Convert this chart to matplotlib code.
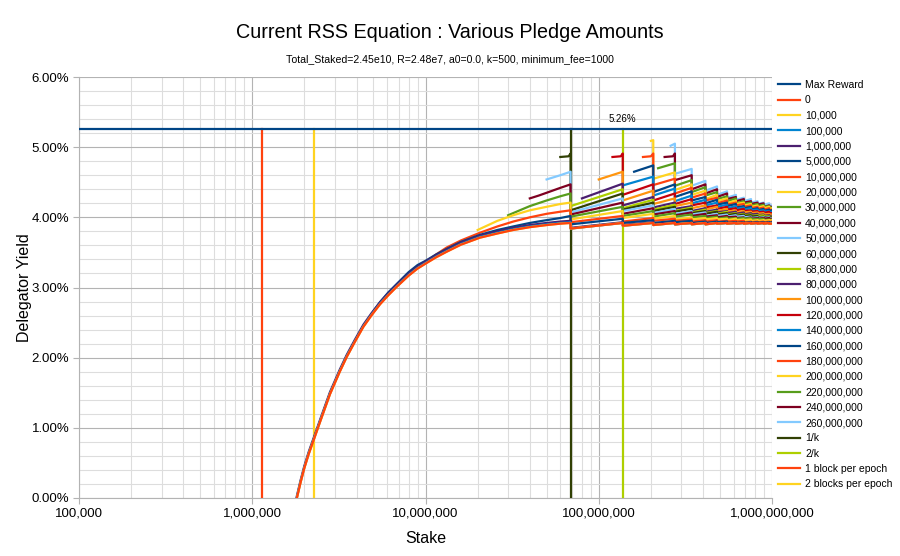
import matplotlib.pyplot as plt
import matplotlib.ticker as mticker

plt.rcParams['font.family'] = ['Liberation Sans', 'DejaVu Sans']

# Stake where the operator has to open one more pool (multiples of 1/k = 68.8M)
pool_edges = [68.8e6, 137.6e6, 206.4e6, 275.2e6, 344.0e6, 412.8e6, 481.6e6,
              550.4e6, 619.2e6, 688.0e6, 756.8e6, 825.6e6, 894.4e6, 963.2e6]
stake_max = 1e9

max_reward = 5.26
one_k, two_k = 68.8e6, 137.6e6
one_block, two_blocks = 1.134e6, 2.268e6

pledge_labels = ['0', '10,000', '100,000', '1,000,000', '5,000,000', '10,000,000',
                 '20,000,000', '30,000,000', '40,000,000', '50,000,000', '60,000,000',
                 '68,800,000', '80,000,000', '100,000,000', '120,000,000',
                 '140,000,000', '160,000,000', '180,000,000', '200,000,000',
                 '220,000,000', '240,000,000', '260,000,000']
pledge_colors = ['#ff420e', '#ffd320', '#0084d1', '#4b1f6f', '#004586', '#ff420e',
                 '#ffd320', '#579d1c', '#7e0021', '#83caff', '#314004',
                 '#aecf00', '#4b1f6f', '#ff950e', '#c5000b',
                 '#0084d1', '#004586', '#ff420e', '#ffd320',
                 '#579d1c', '#7e0021', '#83caff']
# number of pools the series starts with
start_pools = [1, 1, 1, 1, 1, 1, 1, 1, 1, 1, 1,
               2, 2, 2, 2, 3, 3, 3, 3, 4, 4, 4]

# first (smooth) part of each curve, stake in millions, yield in %
low_stake = [1.70, 1.81, 1.9, 2.0, 2.12, 2.25, 2.5, 2.81, 3.2, 3.51, 3.9, 4.38, 4.9,
             5.46, 6.1, 6.82, 8.0, 9.0, 10, 11.5, 13.25, 16, 20.6, 26, 32.1, 40, 50, 60]
head_stake = [
    low_stake, low_stake, low_stake, low_stake,
    [5, 5.46, 6.1, 6.82, 8, 9, 10, 11.5, 13.25, 16, 20.6, 26, 32.1, 40, 50, 60],
    [10, 11.5, 13.25, 16, 20.6, 26, 32.1, 40, 50, 60],
    [20, 26, 32.1, 40, 50, 60],
    [30, 35, 40, 50, 60],
    [40, 45, 50, 60],
    [50, 60],
    [60, 67],
    [68.8], [80], [100], [120, 134],
    [140], [160], [180, 200], [200],
    [220], [240, 268], [260],
]
head_yield = [
    [-0.35, 0.00, 0.22, 0.43, 0.63, 0.81, 1.13, 1.48, 1.80, 2.01, 2.22, 2.44, 2.61,
     2.76, 2.89, 3.01, 3.17, 3.27, 3.34, 3.43, 3.51, 3.61, 3.71, 3.77, 3.82, 3.86, 3.89, 3.91],
    [-0.35, 0.00, 0.22, 0.43, 0.63, 0.81, 1.13, 1.48, 1.80, 2.01, 2.22, 2.44, 2.61,
     2.76, 2.89, 3.01, 3.17, 3.27, 3.34, 3.43, 3.51, 3.61, 3.71, 3.77, 3.82, 3.86, 3.89, 3.91],
    [-0.34, 0.01, 0.23, 0.44, 0.64, 0.82, 1.14, 1.49, 1.81, 2.02, 2.23, 2.45, 2.62,
     2.77, 2.90, 3.02, 3.18, 3.28, 3.35, 3.44, 3.52, 3.62, 3.72, 3.78, 3.83, 3.87, 3.90, 3.92],
    [-0.32, 0.03, 0.25, 0.46, 0.66, 0.84, 1.16, 1.51, 1.83, 2.04, 2.25, 2.47, 2.64,
     2.79, 2.92, 3.04, 3.20, 3.30, 3.37, 3.46, 3.54, 3.64, 3.74, 3.80, 3.85, 3.89, 3.92, 3.94],
    [2.66, 2.79, 2.93, 3.05, 3.22, 3.32, 3.38, 3.47, 3.55, 3.65, 3.75, 3.82, 3.87, 3.92, 3.96, 3.99],
    [3.36, 3.47, 3.57, 3.67, 3.78, 3.87, 3.94, 4.00, 4.05, 4.08],
    [3.82, 3.95, 4.03, 4.10, 4.15, 4.19],
    [4.03, 4.10, 4.16, 4.24, 4.30],
    [4.27, 4.31, 4.35, 4.42],
    [4.54, 4.60],
    [4.86, 4.87],
    [4.16], [4.27], [4.54], [4.86, 4.87],
    [4.46], [4.65], [4.86, 4.87], [5.09],
    [4.70], [4.86, 4.87], [5.02],
]
# yield just before each pool split (last value: at 1,000,000,000)
peaks = [
    [3.92] * 14 + [3.91],
    [3.92] * 14 + [3.91],
    [3.93] + [3.92] * 14,
    [3.95, 3.93, 3.93, 3.93] + [3.92] * 11,
    [4.02, 3.98, 3.96, 3.95, 3.95, 3.94, 3.94, 3.94, 3.93, 3.93, 3.93, 3.93, 3.93, 3.93, 3.93],
    [4.10, 4.02, 3.99, 3.98, 3.97, 3.96, 3.96, 3.95, 3.95, 3.95, 3.94, 3.94, 3.94, 3.94, 3.94],
    [4.21, 4.09, 4.05, 4.02, 4.00, 3.99, 3.99, 3.98, 3.98, 3.97, 3.97, 3.96, 3.96, 3.96, 3.96],
    [4.34, 4.15, 4.09, 4.06, 4.04, 4.02, 4.01, 4.00, 3.99, 3.99, 3.99, 3.98, 3.98, 3.97, 3.97],
    [4.47, 4.21, 4.13, 4.09, 4.07, 4.05, 4.03, 4.02, 4.01, 4.00, 4.00, 3.99, 3.99, 3.99, 3.98],
    [4.65, 4.27, 4.17, 4.12, 4.09, 4.07, 4.05, 4.04, 4.03, 4.02, 4.01, 4.00, 4.00, 4.00, 3.99],
    [4.91, 4.34, 4.21, 4.15, 4.12, 4.09, 4.08, 4.06, 4.05, 4.04, 4.03, 4.02, 4.01, 4.01, 4.00],
    [4.40, 4.25, 4.18, 4.14, 4.11, 4.09, 4.08, 4.06, 4.05, 4.04, 4.03, 4.03, 4.02, 4.01],
    [4.48, 4.29, 4.21, 4.16, 4.13, 4.11, 4.09, 4.08, 4.07, 4.06, 4.05, 4.04, 4.03, 4.02],
    [4.65, 4.38, 4.27, 4.21, 4.17, 4.15, 4.12, 4.10, 4.09, 4.08, 4.07, 4.06, 4.05, 4.04],
    [4.91, 4.47, 4.34, 4.26, 4.21, 4.17, 4.15, 4.13, 4.12, 4.10, 4.09, 4.08, 4.08, 4.06],
    [4.58, 4.41, 4.31, 4.25, 4.21, 4.18, 4.16, 4.14, 4.13, 4.11, 4.10, 4.09, 4.08],
    [4.74, 4.47, 4.37, 4.29, 4.25, 4.21, 4.19, 4.16, 4.15, 4.13, 4.12, 4.11, 4.10],
    [4.91, 4.55, 4.42, 4.34, 4.28, 4.24, 4.21, 4.19, 4.17, 4.15, 4.14, 4.13, 4.11],
    [5.10, 4.64, 4.47, 4.38, 4.32, 4.27, 4.24, 4.21, 4.19, 4.17, 4.16, 4.15, 4.13],
    [4.77, 4.53, 4.43, 4.36, 4.30, 4.27, 4.23, 4.21, 4.19, 4.18, 4.16, 4.14],
    [4.91, 4.60, 4.47, 4.40, 4.34, 4.29, 4.26, 4.23, 4.21, 4.20, 4.17, 4.15],
    [5.05, 4.69, 4.52, 4.44, 4.37, 4.32, 4.28, 4.26, 4.23, 4.21, 4.20, 4.17],
]
# yield just after each pool split
troughs = [
    [3.84, 3.88, 3.89, 3.90, 3.90, 3.90] + [3.91] * 8,
    [3.84, 3.88, 3.89, 3.90, 3.90, 3.90] + [3.91] * 8,
    [3.84, 3.88, 3.89, 3.90, 3.90, 3.90] + [3.91] * 8,
    [3.85, 3.89, 3.90, 3.90] + [3.91] * 10,
    [3.90, 3.92, 3.92, 3.93, 3.92, 3.92, 3.93, 3.92, 3.92, 3.92, 3.92, 3.92, 3.92, 3.92],
    [3.93, 3.94, 3.95, 3.95, 3.94, 3.94, 3.94, 3.94, 3.94, 3.93, 3.93, 3.93, 3.93, 3.93],
    [3.97, 3.99, 3.98, 3.97, 3.97, 3.97, 3.97, 3.96, 3.96, 3.96, 3.95, 3.95, 3.95, 3.95],
    [4.01, 4.02, 4.01, 4.01, 4.00, 3.99, 3.98, 3.98, 3.98, 3.98, 3.97, 3.97, 3.96, 3.96],
    [4.04, 4.05, 4.04, 4.03, 4.02, 4.01, 4.00, 4.00, 3.99, 3.98, 3.98, 3.98, 3.98, 3.98],
    [4.07, 4.09, 4.06, 4.05, 4.04, 4.02, 4.02, 4.01, 4.01, 4.00, 3.99, 3.99, 3.99, 3.98],
    [4.10, 4.11, 4.09, 4.08, 4.06, 4.05, 4.04, 4.03, 4.02, 4.02, 4.01, 4.00, 4.00, 3.99],
    [4.13, 4.11, 4.09, 4.07, 4.06, 4.05, 4.04, 4.03, 4.03, 4.02, 4.02, 4.01, 4.00],
    [4.17, 4.14, 4.12, 4.09, 4.08, 4.07, 4.06, 4.05, 4.04, 4.04, 4.03, 4.02, 4.02],
    [4.24, 4.19, 4.16, 4.13, 4.11, 4.09, 4.08, 4.07, 4.07, 4.06, 4.05, 4.04, 4.04],
    [4.32, 4.24, 4.19, 4.17, 4.14, 4.12, 4.11, 4.10, 4.09, 4.08, 4.07, 4.06, 4.06],
    [4.31, 4.23, 4.20, 4.17, 4.15, 4.13, 4.12, 4.11, 4.10, 4.09, 4.08, 4.07],
    [4.36, 4.29, 4.24, 4.20, 4.18, 4.16, 4.14, 4.13, 4.11, 4.10, 4.09, 4.09],
    [4.46, 4.34, 4.28, 4.24, 4.20, 4.18, 4.17, 4.15, 4.13, 4.12, 4.11, 4.10],
    [4.55, 4.39, 4.32, 4.26, 4.23, 4.20, 4.19, 4.17, 4.15, 4.14, 4.13, 4.12],
    [4.45, 4.36, 4.31, 4.26, 4.23, 4.20, 4.19, 4.17, 4.16, 4.15, 4.14],
    [4.53, 4.40, 4.34, 4.29, 4.26, 4.23, 4.21, 4.19, 4.18, 4.15, 4.15],
    [4.62, 4.45, 4.38, 4.32, 4.28, 4.25, 4.23, 4.21, 4.19, 4.18, 4.17],
]

fig = plt.figure(figsize=(9, 5.56), dpi=100)
ax = fig.add_axes([79 / 900, 1 - 498 / 556, (772 - 79) / 900, (498 - 77) / 556])
ax.set_xscale('log')
ax.set_xlim(1e5, stake_max)
ax.set_ylim(0, 6)

lw = 1.6
# LibreOffice paints the first series on top
ax.plot([1e5, stake_max], [max_reward, max_reward], color='#004586', lw=lw,
        zorder=100, label='Max Reward')
ax.text(two_k, max_reward + 0.07, '5.26%', ha='center', va='bottom', fontsize=7,
        zorder=101)

n_pools_last = len(pool_edges) + 1
for i in range(len(pledge_labels)):
    xs = [v * 1e6 for v in head_stake[i]]
    ys = list(head_yield[i])
    n0 = start_pools[i]
    for k, n in enumerate(range(n0, n_pools_last + 1)):
        if n > n0:
            xs.append(pool_edges[n - 2])
            ys.append(troughs[i][k - 1])
        xs.append(pool_edges[n - 1] if n <= len(pool_edges) else stake_max)
        ys.append(peaks[i][k])
    ax.plot(xs, ys, color=pledge_colors[i], lw=lw, zorder=99 - i,
            label=pledge_labels[i])

verticals = [(one_k, '#314004', '1/k'), (two_k, '#aecf00', '2/k'),
             (one_block, '#ff420e', '1 block per epoch'),
             (two_blocks, '#ffd320', '2 blocks per epoch')]
for j, (xv, col, lab) in enumerate(verticals):
    ax.plot([xv, xv], [0, max_reward], color=col, lw=lw, zorder=70 - j, label=lab)

# axes styling
ax.xaxis.set_major_locator(mticker.LogLocator(base=10, numticks=10))
ax.xaxis.set_minor_locator(mticker.LogLocator(base=10, subs=range(2, 10), numticks=20))
ax.xaxis.set_major_formatter(mticker.FuncFormatter(lambda v, _: f'{int(round(v)):,}'))
ax.xaxis.set_minor_formatter(mticker.NullFormatter())
ax.yaxis.set_major_locator(mticker.MultipleLocator(1))
ax.yaxis.set_minor_locator(mticker.MultipleLocator(0.2))
ax.yaxis.set_major_formatter(mticker.FuncFormatter(lambda v, _: f'{v:.2f}%'))

ax.grid(which='major', color='#b3b3b3', lw=0.8)
ax.grid(which='minor', color='#dddddd', lw=0.8)
ax.set_axisbelow(True)
for side in ['top', 'right']:
    ax.spines[side].set_visible(False)
for side in ['left', 'bottom']:
    ax.spines[side].set_color('#b3b3b3')
ax.tick_params(which='major', length=4, color='#b3b3b3', labelsize=9.5, pad=3)
ax.tick_params(which='minor', length=0)

ax.set_xlabel('Stake', fontsize=11.5, labelpad=8)
ax.set_ylabel('Delegator Yield', fontsize=11.5, labelpad=0)

fig.text(0.5, 1 - 32 / 556, 'Current RSS Equation : Various Pledge Amounts',
         ha='center', va='center', fontsize=14.2)
fig.text(0.5, 1 - 59 / 556,
         'Total_Staked=2.45e10, R=2.48e7, a0=0.0, k=500, minimum_fee=1000',
         ha='center', va='center', fontsize=7.6)

fig.legend(loc='upper left', bbox_to_anchor=(778 / 900, 1 - 80 / 556),
           frameon=False, fontsize=7.5, handlelength=2.15, handletextpad=0.45,
           labelspacing=0.515, borderpad=0, borderaxespad=0)

fig.savefig('out.png', dpi=100)
